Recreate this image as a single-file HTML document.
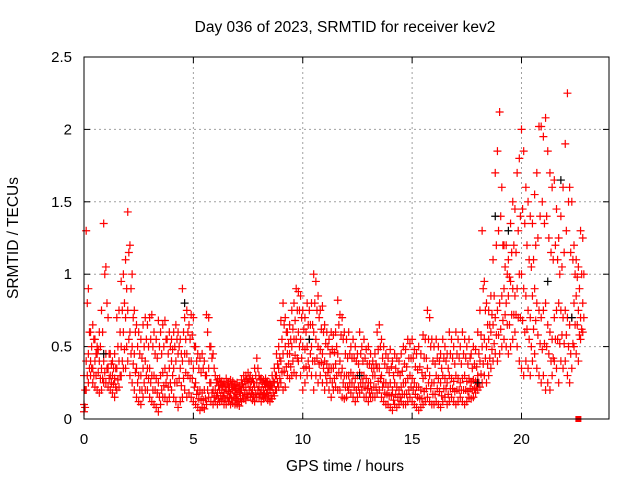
<!DOCTYPE html>
<html><head><meta charset="utf-8"><style>
html,body{margin:0;padding:0;background:#fff;}
svg{display:block;font-family:"Liberation Sans",sans-serif;}
</style></head><body>
<svg id="chart" width="640" height="480" xmlns="http://www.w3.org/2000/svg">
<rect width="640" height="480" fill="#fff"/>
<text x="345" y="32" font-size="15.5" text-anchor="middle">Day 036 of 2023, SRMTID for receiver kev2</text>
<text x="345" y="471" font-size="15.5" text-anchor="middle">GPS time / hours</text>
<text transform="translate(18,238) rotate(-90)" font-size="15.5" text-anchor="middle">SRMTID / TECUs</text>
<g id="grid"></g>
<g id="ticks"></g>
<g id="marks"></g>
<rect x="84" y="57" width="525" height="362" fill="none" stroke="#000" stroke-width="1"/>
</svg>
<script>
const xTicks=[0,5,10,15,20];
const yTicks=[0,0.5,1,1.5,2,2.5];
const yTickLabels=["0","0.5","1","1.5","2","2.5"];
const tStart=0, tStep=0.1, tOffset=0.05;
const hiVals=[0.3,1.3,0.9,0.6,0.65,0.55,0.5,0.6,0.75,1.35,
1.05,0.7,0.45,0.4,0.45,0.7,0.75,0.95,1.0,1.1,
1.43,1.2,1.0,0.75,0.65,0.6,0.55,0.65,0.7,0.65,
0.7,0.72,0.6,0.55,0.68,0.6,0.65,0.68,0.55,0.6,
0.55,0.6,0.65,0.6,0.55,0.9,0.7,0.75,0.65,0.72,
0.7,0.5,0.45,0.42,0.45,0.4,0.72,0.7,0.5,0.45,
0.3,0.27,0.28,0.26,0.25,0.28,0.25,0.27,0.26,0.24,
0.25,0.23,0.27,0.3,0.3,0.32,0.3,0.28,0.35,0.42,
0.3,0.28,0.27,0.28,0.26,0.25,0.3,0.35,0.45,0.5,
0.68,0.8,0.7,0.6,0.65,0.75,0.8,0.9,0.88,0.85,
0.75,0.7,0.8,0.75,0.8,1.0,0.95,0.85,0.75,0.78,
0.65,0.6,0.55,0.6,0.58,0.6,0.82,0.72,0.7,0.6,
0.55,0.6,0.5,0.55,0.5,0.45,0.6,0.5,0.55,0.48,
0.5,0.45,0.4,0.45,0.6,0.65,0.55,0.5,0.45,0.42,
0.48,0.4,0.45,0.42,0.4,0.45,0.5,0.48,0.55,0.52,
0.55,0.48,0.45,0.5,0.45,0.58,0.55,0.75,0.7,0.55,
0.5,0.55,0.5,0.45,0.55,0.5,0.45,0.6,0.55,0.5,
0.6,0.55,0.5,0.6,0.55,0.5,0.55,0.45,0.5,0.48,
0.6,0.75,1.3,0.95,0.8,0.75,0.85,1.1,1.7,1.85,
2.12,1.6,1.2,1.2,1.1,1.35,1.5,1.45,1.7,1.8,
2.0,1.85,1.6,1.5,1.4,1.35,1.55,1.7,2.02,2.02,
1.95,2.08,1.85,1.7,1.6,1.65,1.45,1.25,1.4,1.6,
1.9,2.25,1.6,1.5,1.2,1.1,1.05,1.3,1.25];
const upperMidVals=[0.2,0.8,0.6,0.5,0.55,0.45,0.48,0.5,0.6,1.0,
0.8,0.45,0.38,0.35,0.35,0.5,0.6,0.75,0.8,0.9,
1.15,0.9,0.7,0.6,0.5,0.45,0.42,0.5,0.55,0.5,
0.55,0.5,0.45,0.42,0.5,0.45,0.5,0.55,0.45,0.5,
0.48,0.5,0.55,0.5,0.45,0.6,0.55,0.6,0.55,0.58,
0.5,0.4,0.35,0.32,0.35,0.3,0.6,0.5,0.42,0.35,
0.25,0.23,0.24,0.23,0.22,0.24,0.22,0.23,0.22,0.21,
0.21,0.2,0.24,0.26,0.27,0.28,0.26,0.25,0.3,0.35,
0.27,0.25,0.24,0.25,0.23,0.23,0.26,0.3,0.38,0.42,
0.55,0.65,0.6,0.52,0.55,0.62,0.68,0.75,0.75,0.7,
0.62,0.6,0.65,0.65,0.65,0.8,0.75,0.7,0.62,0.6,
0.52,0.5,0.45,0.48,0.46,0.5,0.65,0.58,0.55,0.45,
0.42,0.45,0.42,0.42,0.4,0.38,0.45,0.4,0.42,0.38,
0.38,0.35,0.35,0.38,0.48,0.5,0.42,0.38,0.35,0.32,
0.36,0.3,0.35,0.32,0.3,0.33,0.38,0.36,0.42,0.42,
0.42,0.36,0.34,0.36,0.32,0.42,0.42,0.55,0.5,0.4,
0.38,0.42,0.4,0.35,0.42,0.4,0.35,0.45,0.42,0.38,
0.45,0.42,0.38,0.45,0.42,0.38,0.42,0.35,0.38,0.36,
0.45,0.58,0.9,0.75,0.65,0.65,0.72,0.85,1.2,1.3,
1.4,1.2,1.05,1.0,0.98,1.15,1.2,1.15,1.3,1.4,
1.45,1.35,1.2,1.1,1.05,1.1,1.2,1.25,1.4,1.5,
1.35,1.4,1.25,1.15,1.1,1.2,1.1,1.0,1.05,1.15,
1.3,1.5,1.15,1.1,1.0,0.98,0.9,1.0,1.0];
const midVals=[0.1,0.4,0.45,0.4,0.35,0.4,0.45,0.4,0.35,0.4,
0.45,0.35,0.3,0.3,0.28,0.35,0.4,0.5,0.6,0.7,
0.75,0.6,0.5,0.45,0.35,0.3,0.3,0.35,0.4,0.35,
0.35,0.3,0.3,0.28,0.25,0.3,0.32,0.35,0.3,0.35,
0.4,0.35,0.4,0.45,0.35,0.4,0.45,0.45,0.4,0.4,
0.35,0.25,0.2,0.2,0.18,0.2,0.3,0.35,0.25,0.2,
0.2,0.18,0.2,0.2,0.18,0.2,0.19,0.18,0.2,0.18,
0.17,0.18,0.2,0.22,0.22,0.25,0.22,0.2,0.22,0.25,
0.22,0.2,0.2,0.22,0.2,0.2,0.22,0.25,0.3,0.35,
0.4,0.45,0.5,0.45,0.45,0.5,0.55,0.55,0.6,0.55,
0.5,0.48,0.5,0.55,0.5,0.6,0.55,0.5,0.48,0.45,
0.4,0.38,0.35,0.35,0.35,0.38,0.45,0.4,0.35,0.3,
0.3,0.3,0.32,0.3,0.28,0.3,0.32,0.3,0.3,0.28,
0.25,0.25,0.3,0.3,0.35,0.35,0.3,0.25,0.25,0.22,
0.25,0.2,0.25,0.22,0.2,0.22,0.25,0.25,0.28,0.3,
0.28,0.25,0.22,0.22,0.2,0.28,0.3,0.35,0.3,0.25,
0.25,0.3,0.28,0.25,0.3,0.28,0.25,0.3,0.28,0.26,
0.3,0.28,0.25,0.28,0.3,0.26,0.28,0.25,0.27,0.26,
0.3,0.4,0.5,0.55,0.5,0.55,0.6,0.65,0.7,0.75,
0.8,0.85,0.9,0.8,0.85,0.95,0.9,0.85,0.9,1.0,
1.0,0.9,0.85,0.75,0.7,0.85,0.9,0.8,0.75,0.7,
0.75,0.8,0.65,0.6,0.55,0.7,0.75,0.8,0.75,0.7,
0.75,0.7,0.65,0.7,0.8,0.85,0.75,0.7,0.8];
const lowerMidVals=[0.08,0.3,0.35,0.35,0.3,0.3,0.32,0.28,0.28,0.32,
0.35,0.28,0.25,0.24,0.22,0.27,0.3,0.4,0.48,0.5,
0.55,0.45,0.38,0.32,0.25,0.2,0.2,0.25,0.3,0.28,
0.25,0.2,0.2,0.18,0.15,0.2,0.23,0.25,0.22,0.25,
0.3,0.25,0.25,0.28,0.23,0.28,0.32,0.3,0.28,0.28,
0.22,0.17,0.14,0.13,0.13,0.14,0.2,0.25,0.18,0.15,
0.16,0.14,0.16,0.16,0.14,0.15,0.15,0.14,0.15,0.14,
0.13,0.14,0.16,0.18,0.17,0.2,0.18,0.16,0.17,0.2,
0.18,0.16,0.17,0.18,0.16,0.16,0.18,0.2,0.25,0.28,
0.32,0.33,0.36,0.38,0.36,0.4,0.44,0.42,0.5,0.42,
0.35,0.36,0.4,0.45,0.4,0.4,0.42,0.38,0.39,0.35,
0.3,0.32,0.28,0.25,0.28,0.3,0.32,0.3,0.25,0.22,
0.22,0.25,0.25,0.22,0.2,0.22,0.25,0.25,0.22,0.21,
0.18,0.2,0.22,0.22,0.26,0.28,0.22,0.18,0.17,0.16,
0.16,0.13,0.17,0.15,0.15,0.17,0.17,0.17,0.2,0.22,
0.2,0.17,0.15,0.14,0.14,0.19,0.21,0.25,0.21,0.17,
0.17,0.21,0.19,0.16,0.21,0.21,0.17,0.21,0.21,0.19,
0.2,0.2,0.2,0.2,0.2,0.19,0.21,0.2,0.21,0.22,
0.25,0.31,0.38,0.42,0.38,0.42,0.48,0.52,0.58,0.58,
0.62,0.68,0.72,0.65,0.65,0.72,0.72,0.72,0.7,0.7,
0.68,0.6,0.62,0.55,0.5,0.62,0.68,0.58,0.52,0.48,
0.52,0.5,0.45,0.4,0.42,0.55,0.55,0.52,0.58,0.52,
0.58,0.5,0.45,0.52,0.65,0.65,0.58,0.62,0.7];
const loVals=[0.05,0.2,0.25,0.3,0.25,0.22,0.2,0.18,0.2,0.25,
0.25,0.22,0.2,0.18,0.15,0.2,0.22,0.3,0.35,0.35,
0.4,0.3,0.25,0.2,0.15,0.12,0.1,0.15,0.2,0.2,
0.15,0.12,0.1,0.08,0.05,0.1,0.15,0.15,0.12,0.15,
0.2,0.15,0.12,0.08,0.12,0.15,0.2,0.15,0.18,0.15,
0.12,0.1,0.08,0.06,0.08,0.07,0.1,0.15,0.12,0.1,
0.12,0.1,0.12,0.13,0.1,0.1,0.12,0.1,0.11,0.1,
0.1,0.09,0.12,0.14,0.13,0.15,0.15,0.13,0.12,0.15,
0.15,0.12,0.14,0.15,0.13,0.12,0.14,0.16,0.2,0.22,
0.25,0.2,0.22,0.3,0.28,0.3,0.32,0.3,0.4,0.3,
0.2,0.25,0.3,0.35,0.3,0.2,0.3,0.25,0.3,0.25,
0.2,0.25,0.2,0.15,0.2,0.22,0.2,0.2,0.15,0.14,
0.15,0.2,0.18,0.15,0.12,0.15,0.18,0.2,0.15,0.15,
0.12,0.15,0.15,0.15,0.18,0.2,0.15,0.12,0.1,0.1,
0.08,0.06,0.1,0.08,0.1,0.12,0.1,0.1,0.12,0.15,
0.12,0.1,0.08,0.06,0.08,0.1,0.12,0.15,0.12,0.1,
0.1,0.12,0.1,0.08,0.12,0.15,0.1,0.12,0.15,0.12,
0.1,0.12,0.15,0.12,0.1,0.12,0.15,0.14,0.15,0.18,
0.2,0.22,0.25,0.3,0.25,0.3,0.35,0.4,0.45,0.4,
0.45,0.5,0.55,0.5,0.45,0.5,0.55,0.6,0.5,0.4,
0.35,0.3,0.4,0.35,0.3,0.4,0.45,0.35,0.3,0.25,
0.3,0.2,0.25,0.2,0.3,0.4,0.35,0.25,0.4,0.35,
0.4,0.3,0.25,0.35,0.5,0.45,0.4,0.55,0.6];
const blackTimes=[0.9,4.6,10.3,12.6,18.0,18.8,19.4,21.2,21.8,22.3];
const blackVals=[0.45,0.8,0.55,0.3,0.25,1.4,1.3,0.95,1.65,0.7];
const squareTimes=[22.6];
const squareVals=[0];

const NS="http://www.w3.org/2000/svg";
const X0=84,X1=609,Y0=419,Y1=57;
function xs(t){return X0+(t-0)/(24-0)*(X1-X0);}
function ys(v){return Y0-(v-0)/(2.5-0)*(Y0-Y1);}
const grid=document.getElementById('grid'),ticks=document.getElementById('ticks'),marks=document.getElementById('marks');
function mk(tag,attrs,parent){const e=document.createElementNS(NS,tag);for(const k in attrs)e.setAttribute(k,attrs[k]);parent.appendChild(e);return e;}
xTicks.forEach(t=>{
  const x=xs(t);
  if(t>0){const g=mk('line',{x1:x,x2:x,y1:Y1,y2:Y0,stroke:'#a0a0a0','stroke-dasharray':'2,3'},grid);
  
  }
  mk('line',{x1:x,x2:x,y1:Y0,y2:Y0-6,stroke:'#000'},ticks);
  mk('line',{x1:x,x2:x,y1:Y1,y2:Y1+6,stroke:'#000'},ticks);
  const l=mk('text',{x:x,y:444,'font-size':15,'text-anchor':'middle'},ticks);l.textContent=t;
  
  
});
yTicks.forEach((v,i)=>{
  const y=ys(v);
  if(v>0&&v<2.5){const g=mk('line',{x1:X0,x2:X1,y1:y,y2:y,stroke:'#a0a0a0','stroke-dasharray':'2,3'},grid);
  
  }
  mk('line',{x1:X0,x2:X0+6,y1:y,y2:y,stroke:'#000'},ticks);
  mk('line',{x1:X1,x2:X1-6,y1:y,y2:y,stroke:'#000'},ticks);
  const l=mk('text',{x:72,y:y+5,'font-size':15,'text-anchor':'end'},ticks);l.textContent=yTickLabels[i];
  
  
});
function plus(t,v,color){
  const x=xs(t),y=ys(v);
  const p=mk('path',{d:`M${x-4},${y}H${x+4}M${x},${y-4}V${y+4}`,stroke:color,'stroke-width':1.2,fill:'none'},marks);
  
  
}
[loVals,midVals,hiVals].forEach(arr=>arr.forEach((v,i)=>plus(tStart+i*tStep,v,'#ff0000')));
[lowerMidVals,upperMidVals].forEach(arr=>arr.forEach((v,i)=>plus(tStart+i*tStep+tOffset,v,'#ff0000')));
blackTimes.forEach((t,i)=>plus(t,blackVals[i],'#000000'));
squareTimes.forEach((t,i)=>{
  const r=mk('rect',{x:xs(t)-3,y:ys(squareVals[i])-3,width:6,height:6,fill:'#ff0000'},marks);
  
  
});
</script>
</body></html>
